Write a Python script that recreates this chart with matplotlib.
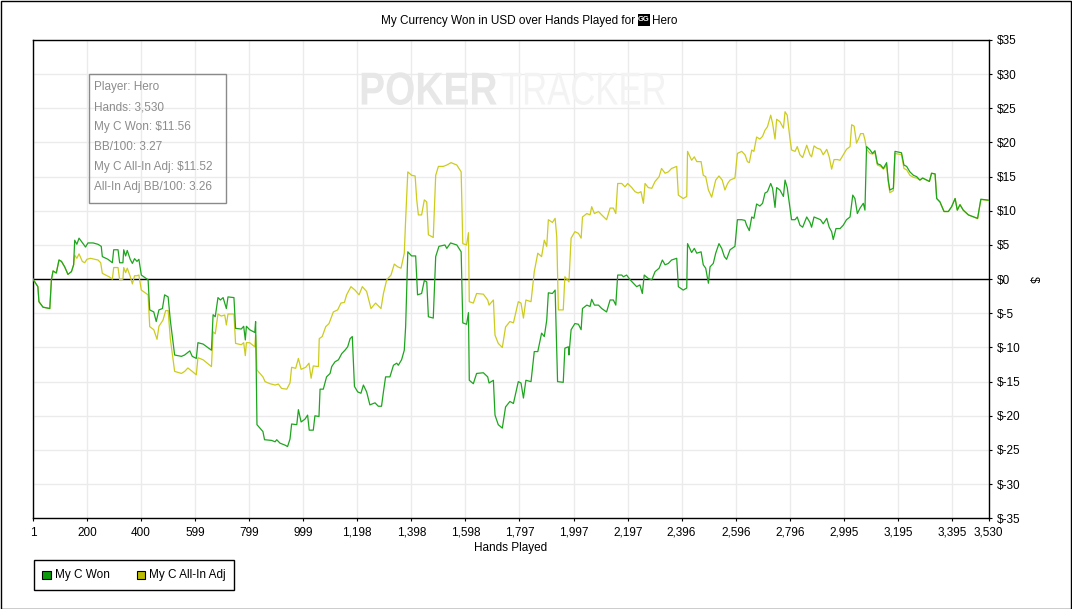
import numpy as np
import matplotlib
matplotlib.use('Agg')
import matplotlib.pyplot as plt
from matplotlib.patches import Rectangle, PathPatch
from matplotlib.textpath import TextPath
from matplotlib.font_manager import FontProperties
from matplotlib.transforms import Affine2D, IdentityTransform

plt.rcParams['font.family'] = ['Liberation Sans', 'DejaVu Sans']

# (hand, cumulative USD)
won_pts = [(1, 0), (19, -1.1), (23, -3.3), (38, -4.1), (63, -4.3), (69, -0.1), (75, 1.2), (87, 0.9),
           (97, 2.8), (106, 2.6), (118, 1.8), (130, 0.7), (143, 1.1), (151, 2.1), (155, 5.7), (163, 5.1),
           (171, 6.0), (186, 5.2), (195, 4.7), (204, 5.3), (223, 5.3), (241, 5.1), (253, 4.8), (257, 3.3),
           (278, 2.9), (294, 2.4), (299, 4.3), (315, 4.3), (321, 2.4), (333, 2.4), (336, 4.3), (343, 3.4),
           (349, 4.2), (360, 2.9), (368, 2.3), (376, 3.0), (385, 2.6), (392, 2.9), (401, 0.6), (419, 0.1),
           (426, -0.1), (432, -4.5), (447, -4.8), (456, -6.2), (466, -4.5), (479, -4.3), (487, -2.3),
           (500, -2.6), (508, -6.0), (524, -11.1), (549, -11.3), (561, -11.1), (580, -10.5), (589, -11.3),
           (604, -11.6), (610, -9.3), (629, -9.5), (660, -10.4), (666, -5.2), (674, -5.5), (684, -2.7),
           (693, -3.05), (703, -2.7), (715, -4.3), (721, -2.6), (743, -2.7), (749, -7.2), (770, -7.3),
           (779, -6.9), (785, -8.9), (789, -6.9), (801, -7.4), (820, -7.8), (823, -6.2), (828, -21.3),
           (850, -22.3), (856, -23.5), (882, -23.6), (895, -23.8), (901, -23.5), (913, -24.0), (932, -24.3),
           (941, -24.5), (950, -23.4), (956, -21.2), (975, -21.3), (981, -19.1), (991, -20.9), (1005, -20.5),
           (1015, -19.9), (1021, -22.1), (1036, -22.1), (1042, -20.0), (1057, -20.1), (1061, -16.1),
           (1073, -16.1), (1085, -14.3), (1098, -13.8), (1104, -12.8), (1116, -12.1), (1129, -11.8),
           (1141, -10.9), (1153, -10.4), (1163, -9.9), (1172, -8.7), (1180, -8.4), (1188, -15.7),
           (1200, -16.5), (1212, -16.7), (1221, -15.5), (1233, -16.5), (1245, -18.4), (1264, -18.1),
           (1276, -18.6), (1288, -18.6), (1295, -16.5), (1303, -14.3), (1319, -14.3), (1332, -12.6),
           (1344, -12.3), (1350, -12.6), (1362, -11.8), (1372, -10.4), (1377, -6.95), (1385, 4.0),
           (1399, 3.4), (1414, 3.4), (1421, -2.3), (1436, -2.1), (1446, -0.2), (1455, -0.4), (1461, -5.5),
           (1479, -5.7), (1488, 3.3), (1500, 4.8), (1522, 5.0), (1529, 4.5), (1543, 5.3), (1566, 5.0),
           (1582, 4.0), (1588, -6.4), (1602, -6.6), (1609, -4.9), (1612, -14.8), (1627, -15.3),
           (1639, -13.8), (1664, -13.7), (1680, -14.3), (1685, -15.2), (1701, -14.8), (1707, -19.9),
           (1719, -21.3), (1734, -21.8), (1746, -18.7), (1762, -17.9), (1775, -18.2), (1793, -15.0),
           (1803, -15.2), (1812, -17.4), (1821, -14.8), (1840, -15.0), (1852, -10.6), (1865, -10.6),
           (1879, -7.9), (1889, -8.4), (1898, -6.0), (1904, -2.0), (1919, -2.1), (1929, -1.6),
           (1938, -15.0), (1959, -15.1), (1965, -10.1), (1978, -9.9), (1980, -11.1), (1988, -7.4),
           (2002, -6.5), (2015, -6.6), (2025, -7.4), (2030, -4.3), (2046, -3.8), (2058, -4.0),
           (2064, -2.95), (2074, -3.8), (2089, -3.8), (2101, -4.3), (2119, -4.8), (2132, -3.05),
           (2144, -3.05), (2153, -3.8), (2160, 0.6), (2175, 0.6), (2181, 0.35), (2193, 0.6), (2206, -0.1),
           (2218, -0.6), (2230, -1.1), (2242, -0.85), (2251, -2.1), (2258, 0.6), (2273, 0.1), (2286, -0.1),
           (2298, 1.1), (2313, 1.6), (2325, 2.8), (2335, 2.1), (2347, 2.3), (2359, 2.8), (2378, 3.05),
           (2384, -1.1), (2402, -1.6), (2415, -1.3), (2418, 5.2), (2433, 3.9), (2443, 4.5), (2452, 3.8),
           (2468, 4.0), (2476, 2.1), (2485, 1.6), (2495, -0.6), (2501, 1.8), (2513, 2.3), (2522, 3.8),
           (2534, 5.2), (2544, 4.5), (2554, 3.3), (2562, 2.9), (2575, 4.3), (2593, 4.8), (2602, 8.7),
           (2618, 8.7), (2630, 8.6), (2636, 7.9), (2646, 7.1), (2655, 9.1), (2663, 8.9), (2673, 11.0),
           (2685, 10.7), (2695, 11.1), (2704, 12.6), (2713, 12.8), (2725, 14.0), (2732, 13.3),
           (2741, 10.5), (2747, 13.4), (2759, 13.05), (2772, 12.1), (2778, 14.5), (2786, 13.4),
           (2796, 10.4), (2802, 8.7), (2815, 8.7), (2823, 9.1), (2833, 7.9), (2843, 7.6), (2858, 9.1),
           (2870, 8.3), (2876, 7.6), (2885, 9.1), (2897, 8.9), (2909, 8.7), (2919, 8.1), (2932, 8.9),
           (2941, 7.6), (2950, 6.95), (2956, 5.8), (2966, 7.4), (2981, 7.4), (2993, 7.9), (3005, 8.7),
           (3018, 9.1), (3028, 12.3), (3036, 11.8), (3045, 9.6), (3055, 10.4), (3067, 11.1), (3073, 10.1),
           (3079, 19.4), (3092, 18.9), (3101, 18.4), (3110, 18.8), (3119, 16.9), (3131, 16.7),
           (3141, 16.2), (3153, 17.05), (3159, 14.5), (3165, 13.05), (3178, 13.3), (3184, 18.7),
           (3208, 18.5), (3217, 16.7), (3227, 16.5), (3239, 15.7), (3252, 15.2), (3264, 15.0),
           (3276, 14.5), (3286, 14.8), (3301, 14.5), (3311, 14.3), (3319, 15.5), (3332, 15.4),
           (3338, 11.8), (3350, 11.3), (3365, 9.9), (3381, 9.9), (3393, 10.6), (3406, 11.8), (3414, 10.1),
           (3424, 10.9), (3436, 10.1), (3455, 9.4), (3479, 9.05), (3489, 8.9), (3501, 11.7), (3530, 11.56)]

adj_pts = [(1, 0), (19, -1.1), (23, -3.3), (38, -4.1), (63, -4.3), (69, -0.1), (75, 1.2), (87, 0.9),
           (97, 2.8), (106, 2.6), (118, 1.8), (130, 0.7), (143, 1.1), (151, 2.1), (155, 3.5), (163, 3.05),
           (171, 3.7), (183, 2.6), (192, 2.4), (200, 2.9), (213, 3.05), (229, 2.9), (241, 2.8), (251, 2.4),
           (257, 0.85), (269, 0.6), (284, 0.3), (294, 0.0), (299, 1.7), (315, 1.7), (321, -0.1), (333, 0.0),
           (336, 1.7), (343, 0.95), (349, 1.6), (360, 0.4), (368, -0.7), (376, 0.5), (385, 0.5), (392, 0.6),
           (401, -1.6), (419, -2.1), (426, -2.3), (432, -6.95), (447, -7.4), (459, -8.8), (466, -6.9),
           (481, -6.0), (491, -4.6), (500, -4.6), (508, -8.7), (524, -13.5), (549, -13.8), (561, -13.5),
           (573, -13.0), (589, -13.5), (604, -14.0), (610, -11.5), (629, -11.8), (660, -12.8), (666, -7.7),
           (674, -8.0), (684, -5.1), (696, -5.4), (709, -5.25), (715, -6.7), (721, -5.1), (743, -5.1),
           (749, -9.4), (770, -9.6), (779, -9.3), (785, -11.2), (789, -9.3), (801, -9.3), (820, -9.9),
           (823, -8.2), (828, -13.3), (850, -14.3), (858, -15.0), (876, -15.3), (895, -15.5),
           (907, -15.35), (919, -16.0), (938, -16.1), (950, -15.2), (956, -12.9), (971, -13.05),
           (981, -11.6), (991, -13.2), (1008, -12.9), (1020, -12.3), (1028, -14.5), (1036, -12.7),
           (1055, -12.8), (1058, -8.7), (1069, -8.4), (1082, -6.95), (1094, -6.5), (1110, -4.8),
           (1126, -4.5), (1138, -3.5), (1151, -3.4), (1159, -2.3), (1175, -1.1), (1190, -1.6),
           (1205, -2.3), (1217, -1.1), (1233, -1.8), (1249, -4.3), (1266, -3.5), (1286, -4.3),
           (1295, -2.1), (1307, -0.1), (1323, 0.6), (1335, 2.2), (1348, 1.8), (1360, 1.6), (1372, 3.8),
           (1377, 8.7), (1385, 15.7), (1399, 15.2), (1412, 15.1), (1418, 11.6), (1424, 9.4), (1436, 9.4),
           (1446, 11.6), (1455, 11.3), (1461, 6.5), (1479, 6.1), (1488, 15.2), (1498, 16.5), (1516, 16.5),
           (1529, 16.7), (1545, 17.05), (1566, 16.7), (1582, 15.7), (1588, 5.2), (1602, 5.0), (1609, 6.8),
           (1612, -3.3), (1627, -3.5), (1639, -2.1), (1664, -2.2), (1680, -3.05), (1685, -3.8),
           (1701, -3.05), (1707, -8.2), (1719, -9.4), (1734, -10.0), (1746, -7.0), (1762, -6.2),
           (1775, -6.4), (1793, -3.3), (1803, -3.5), (1812, -5.7), (1821, -3.05), (1840, -3.3),
           (1852, 1.1), (1865, 3.8), (1879, 3.3), (1889, 5.7), (1898, 4.8), (1904, 8.7), (1919, 8.3),
           (1929, 8.9), (1935, 6.2), (1941, -4.5), (1959, -4.5), (1965, 0.35), (1980, -0.4), (1988, 6.0),
           (2002, 6.95), (2015, 6.7), (2025, 6.0), (2030, 9.1), (2046, 9.6), (2058, 9.4), (2064, 10.6),
           (2074, 9.6), (2089, 9.9), (2101, 9.4), (2119, 8.7), (2132, 10.4), (2144, 10.4), (2153, 9.6),
           (2160, 14.0), (2175, 14.0), (2187, 13.5), (2197, 14.0), (2212, 13.4), (2224, 12.8),
           (2236, 12.6), (2246, 12.8), (2255, 11.1), (2261, 14.0), (2273, 13.4), (2286, 13.3),
           (2298, 14.3), (2313, 15.0), (2322, 16.2), (2335, 15.5), (2347, 15.7), (2359, 16.2),
           (2378, 16.5), (2384, 12.3), (2402, 11.8), (2415, 12.1), (2418, 18.7), (2433, 17.4),
           (2443, 17.9), (2452, 17.2), (2468, 17.2), (2476, 15.2), (2485, 15.0), (2495, 13.05),
           (2507, 12.0), (2522, 14.5), (2534, 15.1), (2546, 14.5), (2556, 13.05), (2566, 14.0),
           (2575, 14.5), (2593, 14.8), (2602, 18.4), (2618, 18.7), (2630, 18.2), (2639, 17.2),
           (2646, 17.05), (2655, 18.9), (2663, 18.7), (2673, 20.8), (2685, 20.5), (2695, 20.9),
           (2704, 21.8), (2713, 22.3), (2725, 24.0), (2732, 22.8), (2741, 20.5), (2747, 23.4),
           (2759, 23.05), (2772, 22.1), (2778, 24.5), (2786, 24.0), (2796, 20.6), (2802, 18.9),
           (2815, 18.7), (2823, 19.4), (2833, 18.2), (2843, 17.8), (2858, 19.6), (2870, 18.2),
           (2876, 17.9), (2885, 19.5), (2897, 19.15), (2909, 19.0), (2919, 18.2), (2932, 19.0),
           (2941, 17.9), (2950, 16.1), (2959, 17.5), (2971, 17.5), (2981, 17.4), (2993, 18.2),
           (3005, 19.0), (3018, 19.4), (3024, 22.6), (3033, 22.4), (3042, 19.9), (3049, 20.5),
           (3057, 21.3), (3067, 21.3), (3073, 20.4), (3079, 19.0), (3092, 18.4), (3101, 18.3),
           (3110, 18.5), (3119, 16.7), (3131, 16.5), (3141, 16.1), (3153, 16.7), (3159, 14.3),
           (3165, 12.66), (3178, 12.95), (3184, 18.4), (3208, 18.2), (3217, 16.2), (3227, 16.0),
           (3239, 15.2), (3252, 14.9), (3264, 14.8), (3276, 14.5), (3286, 14.8), (3301, 14.5),
           (3311, 14.3), (3319, 15.5), (3332, 15.4), (3338, 11.8), (3350, 11.3), (3365, 9.9),
           (3381, 9.9), (3393, 10.6), (3406, 11.8), (3414, 10.1), (3424, 10.9), (3436, 10.1),
           (3455, 9.4), (3479, 9.0), (3489, 8.85), (3501, 11.65), (3530, 11.52)]

x_ticks = [1, 200, 400, 599, 799, 999, 1198, 1398, 1598, 1797, 1997, 2197, 2396, 2596, 2796,
           2995, 3195, 3395, 3530]
y_ticks = list(range(-35, 40, 5))

stats = ["Player: Hero", "Hands: 3,530", "My C Won: $11.56", "BB/100: 3.27",
         "My C All-In Adj: $11.52", "All-In Adj BB/100: 3.26"]

green = '#1ea51e'
yellow = '#cccc1e'

W, H = 1072, 609
fig = plt.figure(figsize=(W / 100, H / 100), dpi=100)
ax = fig.add_axes([33 / W, 1 - 518.3 / H, 955.7 / W, 478.3 / H])

def fx(px):
    return px / W

def fy(py):
    return 1 - py / H

won_h, won_v = zip(*won_pts)
adj_h, adj_v = zip(*adj_pts)

ax.plot(adj_h, adj_v, color=yellow, lw=0.9, zorder=3)
ax.plot(won_h, won_v, color=green, lw=0.9, zorder=4)
ax.axhline(0, color='black', lw=1, zorder=2)

ax.set_xlim(1, 3530)
ax.set_ylim(-35, 35)
ax.set_xticks(x_ticks)
ax.set_xticklabels([f"{t:,}" for t in x_ticks])
ax.set_yticks(y_ticks)
ax.set_yticklabels([f"${t}" for t in y_ticks])
ax.yaxis.tick_right()
ax.grid(True, color='#ebebeb', lw=1)
ax.set_axisbelow(True)
ax.tick_params(axis='both', direction='out', length=2.5, width=0.8, pad=3.6,
               labelsize=8.5, colors='black')
for s in ax.spines.values():
    s.set_linewidth(1)
    s.set_color('black')

# title with a small site badge
fig.text(fx(635), fy(21), "My Currency Won in USD over Hands Played for", ha='right',
         va='center', fontsize=8.5)
fig.patches.append(Rectangle((fx(637.5), fy(25.5)), 12 / W, 11.5 / H, transform=fig.transFigure,
                             facecolor='black', edgecolor='none'))
fig.text(fx(643.5), fy(19.5), "GG", ha='center', va='center', fontsize=5.5, color='white',
         fontweight='bold')
fig.text(fx(652), fy(21), "Hero", ha='left', va='center', fontsize=8.5)

# axis labels
fig.text(fx(510.5), fy(548.5), "Hands Played", ha='center', va='center', fontsize=8.5)
fig.text(fx(1033), fy(279), "$", ha='center', va='center', fontsize=8.5, rotation=270)

# watermark, squeezed to the condensed look of the original
def watermark(word, x0, x1, y_top, y_bot, color, weight):
    tp = TextPath((0, 0), word, size=40, prop=FontProperties(family='Liberation Sans', weight=weight))
    ext = tp.get_extents()
    sx = (x1 - x0) / ext.width
    sy = (y_bot - y_top) / ext.height
    tr = Affine2D().translate(-ext.x0, -ext.y0).scale(sx, sy).translate(x0, H - y_bot)
    fig.patches.append(PathPatch(tr.transform_path(tp), transform=IdentityTransform(),
                                 facecolor=color, edgecolor='none', zorder=1))

watermark("POKER", 361.7, 496.7, 72.3, 105, '#e7e7e7', 'bold')
watermark("TRACKER", 501.7, 665, 72.3, 105, '#f3f3f3', 'normal')

# stats box
fig.patches.append(Rectangle((fx(88.5), fy(203)), 137 / W, 129 / H, transform=fig.transFigure,
                             facecolor='none', edgecolor='#8a8a8a', lw=1))
for i, line in enumerate(stats):
    fig.text(fx(93.5), fy(87 + 20 * i), line, ha='left', va='center', fontsize=8.5,
             color='#8c8c8c')

# legend below the chart
fig.patches.append(Rectangle((fx(33.5), fy(590)), 200 / W, 30.5 / H, transform=fig.transFigure,
                             facecolor='white', edgecolor='black', lw=1))
fig.patches.append(Rectangle((fx(42), fy(579)), 8.5 / W, 8.5 / H, transform=fig.transFigure,
                             facecolor='#0a9a0a', edgecolor='black', lw=0.8))
fig.text(fx(55), fy(575), "My C Won", ha='left', va='center', fontsize=8.5)
fig.patches.append(Rectangle((fx(136.5), fy(579)), 8.5 / W, 8.5 / H, transform=fig.transFigure,
                             facecolor='#bcbc00', edgecolor='black', lw=0.8))
fig.text(fx(149), fy(575), "My C All-In Adj", ha='left', va='center', fontsize=8.5)

# outer frame
fig.patches.append(Rectangle((0.5 / W, 0.5 / H), 1 - 1.5 / W, 1 - 1.5 / H, transform=fig.transFigure,
                             facecolor='none', edgecolor='black', lw=1))

fig.savefig('out.png', dpi=100)
